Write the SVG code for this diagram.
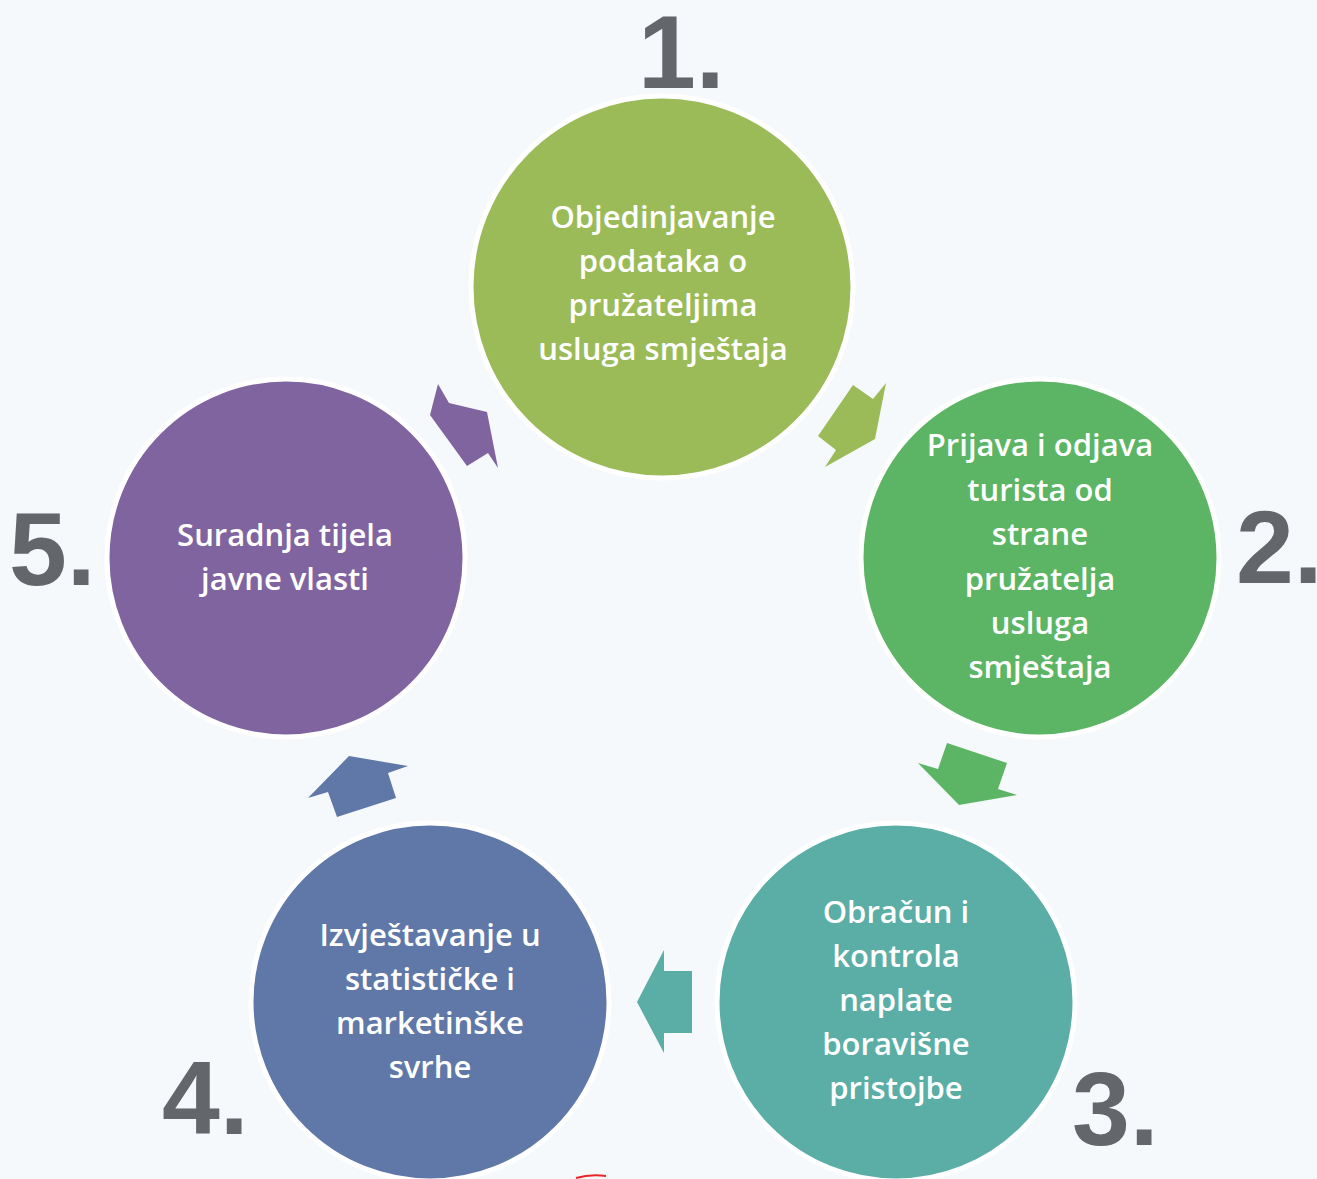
<svg xmlns="http://www.w3.org/2000/svg" width="1317" height="1179" viewBox="0 0 1317 1179">
<style>
.c{stroke:#ffffff;stroke-width:5}
.t{font-family:"Open Sans","Liberation Sans",sans-serif;font-weight:600;font-size:31px;fill:#ffffff;text-anchor:middle}
.n{font-family:"Liberation Sans",Arial,sans-serif;font-weight:bold;font-size:104px;fill:#63676b}
</style>
<rect width="1317" height="1179" fill="#f5f9fc"/>
<g id="connectors">
<polygon points="853,385 873,399 886,383 875,439 825,467 836,450 818,436" fill="#9bbb59"/>
<polygon points="947,743 1007,763 998,789 1017,795 959,805 918,763 938,769" fill="#5cb565"/>
<polygon points="664,950 664,971 692,971 692,1033 664,1033 664,1053 637,1002" fill="#5baea6"/>
<polygon points="349,756 408,766 388,773 396,798 337,817 328,792 308,798" fill="#6078a8"/>
<polygon points="438,384 449,403 487,412 498,468 488,453 467,466 430,415" fill="#8064a0"/>
</g>
<g id="node1">
<circle class="c" cx="662" cy="287" r="191" fill="#9bbb59"/>
<text class="t"><tspan x="663" y="228">Objedinjavanje</tspan><tspan x="663" y="272">podataka o</tspan><tspan x="663" y="316">pružateljima</tspan><tspan x="663" y="360">usluga smještaja</tspan></text>
<text class="n" x="638" y="88">1.</text>
</g>
<g id="node2">
<circle class="c" cx="1040" cy="558" r="179" fill="#5cb565"/>
<text class="t"><tspan x="1040" y="456">Prijava i odjava</tspan><tspan x="1040" y="501">turista od</tspan><tspan x="1040" y="545">strane</tspan><tspan x="1040" y="590">pružatelja</tspan><tspan x="1040" y="634">usluga</tspan><tspan x="1040" y="678">smještaja</tspan></text>
<text class="n" x="1236" y="583">2.</text>
</g>
<g id="node3">
<circle class="c" cx="896" cy="1002" r="179" fill="#5baea6"/>
<text class="t"><tspan x="896" y="923">Obračun i</tspan><tspan x="896" y="967">kontrola</tspan><tspan x="896" y="1011">naplate</tspan><tspan x="896" y="1055">boravišne</tspan><tspan x="896" y="1099">pristojbe</tspan></text>
<text class="n" x="1072" y="1145">3.</text>
</g>
<g id="node4">
<circle class="c" cx="430" cy="1002" r="179" fill="#6078a8"/>
<text class="t"><tspan x="430" y="946">Izvještavanje u</tspan><tspan x="430" y="990">statističke i</tspan><tspan x="430" y="1034">marketinške</tspan><tspan x="430" y="1078">svrhe</tspan></text>
<text class="n" x="162" y="1134">4.</text>
</g>
<g id="node5">
<circle class="c" cx="286" cy="558" r="179" fill="#8064a0"/>
<text class="t"><tspan x="285" y="546">Suradnja tijela</tspan><tspan x="285" y="590">javne vlasti</tspan></text>
<text class="n" x="9" y="585">5.</text>
</g>
<path d="M576,1178 Q590,1174 606,1176" stroke="#e8262a" stroke-width="2" fill="none"/>
</svg>
